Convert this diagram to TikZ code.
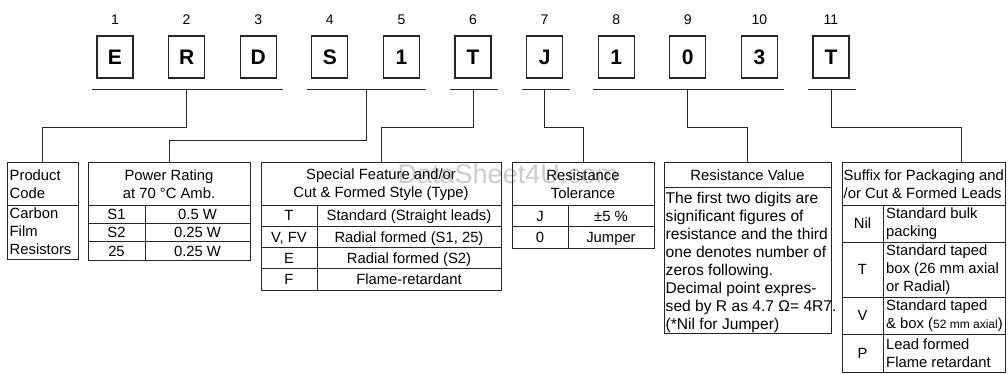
\documentclass[tikz,border=0pt]{standalone}
\usepackage{fontspec}
\setmainfont{Liberation Sans}
\usetikzlibrary{calc}
\begin{document}
\begin{tikzpicture}[x=1pt,y=-1pt,
  lbox/.style={draw=black!85, line width=1.1pt, minimum width=36pt, minimum height=42pt, inner sep=0pt,
    font=\fontsize{21pt}{24pt}\selectfont\bfseries},
  num/.style={font=\fontsize{14pt}{16pt}\selectfont, inner sep=0pt},
  ln/.style={draw=black!85, line width=1pt},
  tbl/.style={draw=black!85, line width=1pt, inner sep=0pt, outer sep=0pt, anchor=north west},
  txt/.style={font=\fontsize{14.8pt}{18pt}\selectfont, inner sep=0pt},
  cell/.style={txt, text height=10.6pt, text depth=0pt},
  wmark/.style={font=\fontsize{27pt}{30pt}\selectfont, text=black!20, inner sep=0pt}
]
\useasboundingbox (0,0) rectangle (1008,374);

% watermark
\node[wmark, anchor=base] (wm) at (508,183) {DataSheet4U.com};

% letters and position numbers
\foreach \i/\c in {1/E,2/R,3/D,4/S,5/1,6/T,7/J,8/1,9/0,10/3,11/T} {
  \node[lbox] (L\i) at ({115+(\i-1)*71.6},57) {\c};
  \node[num] (N\i) at ({115+(\i-1)*71.6},20) {\i};
}

% brackets
\draw[ln] ($(L1.center)+(-23,33)$) -- ($(L3.center)+(25,33)$);
\draw[ln] ($(L4.center)+(-23,33)$) -- ($(L5.center)+(25,33)$);
\draw[ln] ($(L6.center)+(-23,33)$) -- ($(L6.center)+(25,33)$);
\draw[ln] ($(L7.center)+(-23,33)$) -- ($(L7.center)+(25,33)$);
\draw[ln] ($(L8.center)+(-23,33)$) -- ($(L10.center)+(25,33)$);
\draw[ln] ($(L11.center)+(-23,33)$) -- ($(L11.center)+(25,33)$);

\coordinate (b1) at ($(L2.center)+(0,33)$);
\coordinate (b2) at (366.5,90);
\coordinate (b3) at ($(L6.center)+(0,33)$);
\coordinate (b4) at ($(L7.center)+(0,33)$);
\coordinate (b5) at ($(L9.center)+(0,33)$);
\coordinate (b6) at ($(L11.center)+(0,33)$);

% tables (outer frames)
\node[tbl, minimum width=71pt,  minimum height=96pt]  (T1) at (7,163) {};
\node[tbl, minimum width=162pt, minimum height=97pt]  (T2) at (88,163) {};
\node[tbl, minimum width=240pt, minimum height=127pt] (T3) at (261,163) {};
\node[tbl, minimum width=142pt, minimum height=85pt]  (T4) at (512,163) {};
\node[tbl, minimum width=167pt, minimum height=170pt] (T5) at (664,163) {};
\node[tbl, minimum width=163pt, minimum height=209pt] (T6) at (842,163) {};
\coordinate (c6) at ($(T6.north west)+(119,0)$);

% connectors
\draw[ln] (b1) -- ++(0,38) -| (T1.north);
\draw[ln] (b2) -- ++(0,51) -| (T2.north);
\draw[ln] (b3) -- ++(0,38) -| (T3.north);
\draw[ln] (b4) -- ++(0,38) -| (T4.north);
\draw[ln] (b5) -- ++(0,38) -| (T5.north);
\draw[ln] (b6) -- ++(0,38) -| (c6);

% ---- Table 1: Product code
\draw[ln] (7,205) -- (78,205);
\node[txt, anchor=west, align=left] (t1h) at (9.5,184) {Product\\Code};
\node[txt, anchor=west, align=left] (t1b) at (9.5,231) {Carbon\\Film\\Resistors};

% ---- Table 2: Power rating
\draw[ln] (88,205) -- (250,205);
\draw[ln] (88,223.3) -- (250,223.3);
\draw[ln] (88,241.7) -- (250,241.7);
\draw[ln] (145,205) -- (145,260);
\node[txt, align=center] (t2h) at (169,184.5) {Power Rating\\at 70 °C Amb.};
\foreach \k/\a/\b/\y in {1/S1/0.5 W/214.2, 2/S2/0.25 W/232.5, 3/25/0.25 W/250.8} {
  \node[cell] (t2a\k) at (116.5,\y) {\a};
  \node[cell] (t2b\k) at (197.5,\y) {\b};
}

% ---- Table 3: Special feature
\draw[ln] (261,205) -- (501,205);
\draw[ln] (261,226.25) -- (501,226.25);
\draw[ln] (261,247.5) -- (501,247.5);
\draw[ln] (261,268.75) -- (501,268.75);
\draw[ln] (317,205) -- (317,290);
\node[txt, align=center] (t3h) at (381,184.5) {Special Feature and/or\\Cut \& Formed Style (Type)};
\node[cell] (t3a1) at (289,215.6) {T};
\node[cell] (t3b1) at (409,215.6) {Standard (Straight leads)};
\node[cell] (t3a2) at (289,236.9) {V, FV};
\node[cell] (t3b2) at (409,236.9) {Radial formed (S1, 25)};
\node[cell] (t3a3) at (289,258.1) {E};
\node[cell] (t3b3) at (409,258.1) {Radial formed (S2)};
\node[cell] (t3a4) at (289,279.4) {F};
\node[cell] (t3b4) at (409,279.4) {Flame-retardant};

% ---- Table 4: Tolerance
\draw[ln] (512,205) -- (654,205);
\draw[ln] (512,226.5) -- (654,226.5);
\draw[ln] (568,205) -- (568,248);
\node[txt, align=center] (t4h) at (583,184.5) {Resistance\\Tolerance};
\node[cell] (t4a1) at (540,215.75) {J};
\node[cell] (t4b1) at (611,215.75) {±5 \%};
\node[cell] (t4a2) at (540,237.25) {0};
\node[cell] (t4b2) at (611,237.25) {Jumper};

% ---- Table 5: Resistance value
\draw[ln] (664,187) -- (831,187);
\node[cell] (t5h) at (747.5,175) {Resistance Value};
\foreach \t [count=\k from 0] in {The first two digits are, significant figures of,
  resistance and the third, one denotes number of, zeros following.,
  Decimal point expres-, sed by R as 4.7 Ω= 4R7., (*Nil for Jumper)} {
  \node[font=\fontsize{15.6pt}{18pt}\selectfont, inner sep=0pt, anchor=base west] (t5l\k) at (665.5,{203.6+18*\k}) {\t};
}

% ---- Table 6: Suffix
\draw[ln] (842,205) -- (1005,205);
\draw[ln] (842,242) -- (1005,242);
\draw[ln] (842,297) -- (1005,297);
\draw[ln] (842,334) -- (1005,334);
\draw[ln] (883,205) -- (883,372);
\node[txt, anchor=west, align=left] (t6h) at (843.5,184.5) {Suffix for Packaging and\\/or Cut \& Formed Leads};
\node[cell] (t6a1) at (862.5,223.5) {Nil};
\node[cell] (t6a2) at (862.5,269.5) {T};
\node[cell] (t6a3) at (862.5,315.5) {V};
\node[cell] (t6a4) at (862.5,353) {P};
\node[txt, anchor=west, align=left] (t6b1) at (886,223.5) {Standard bulk\\packing};
\node[txt, anchor=west, align=left] (t6b2) at (886,269.5) {Standard taped\\box (26 mm axial\\or Radial)};
\node[txt, anchor=west, align=left] (t6b3) at (886,315.5) {Standard taped\\\& box ({\fontsize{12pt}{18pt}\selectfont 52 mm axial})};
\node[txt, anchor=west, align=left] (t6b4) at (886,353) {Lead formed\\Flame retardant};
\end{tikzpicture}
\end{document}
